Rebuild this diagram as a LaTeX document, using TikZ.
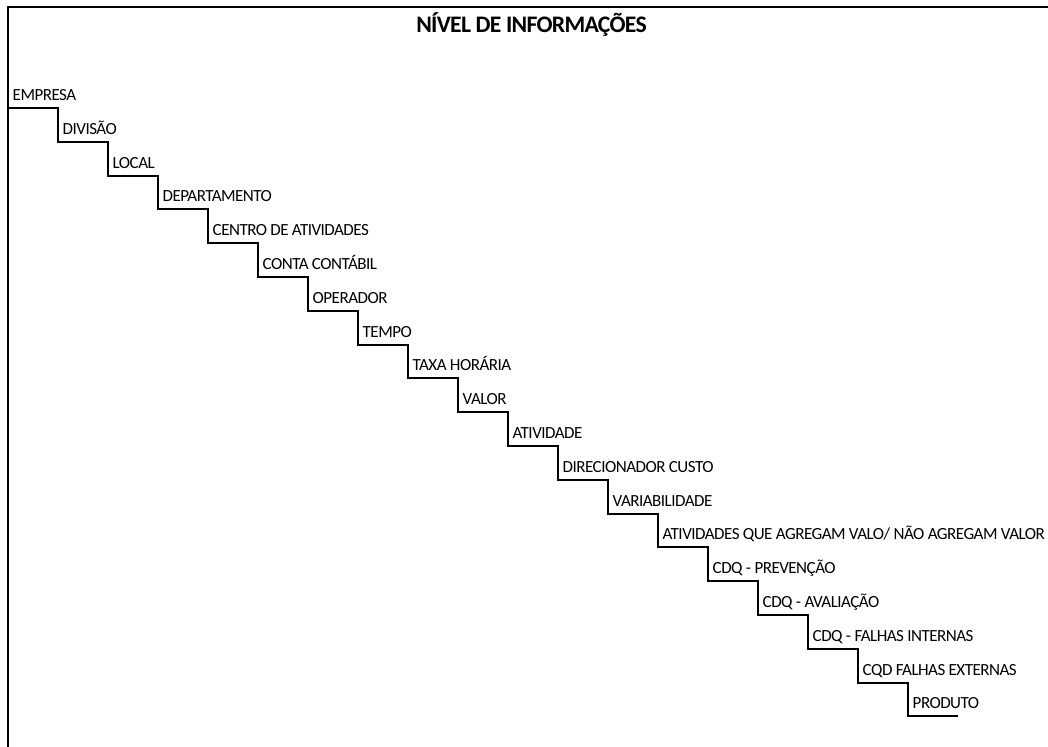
\documentclass[tikz,border=0pt]{standalone}
\usepackage{fontspec}
\setmainfont{Carlito}[LetterSpace=-3]
\begin{document}
\begin{tikzpicture}[x=1bp,y=-1bp,
  frame/.style={line width=2.2bp},
  stair/.style={line width=1.9bp, line join=miter},
  level/.style={anchor=base west, inner sep=0pt, font=\fontsize{17bp}{20bp}\selectfont},
  heading/.style={anchor=base, inner sep=0pt, font=\fontsize{23.7bp}{27bp}\selectfont\bfseries}]
\useasboundingbox (0,0) rectangle (1048,747);
% top and left frame lines
\draw[frame] (1048,6.8) -- (8,6.8) -- (8,747);
\node[heading] (title) at (531.5,33) {NÍVEL DE INFORMAÇÕES};
% step corners and labels
\foreach \t [count=\k from 0] in {EMPRESA, DIVISÃO, LOCAL, DEPARTAMENTO,
  CENTRO DE ATIVIDADES, CONTA CONTÁBIL, OPERADOR, TEMPO, TAXA HORÁRIA, VALOR,
  ATIVIDADE, DIRECIONADOR CUSTO, VARIABILIDADE,
  ATIVIDADES QUE AGREGAM VALO/ NÃO AGREGAM VALOR, CDQ - PREVENÇÃO,
  CDQ - AVALIAÇÃO, CDQ - FALHAS INTERNAS, CQD FALHAS EXTERNAS, PRODUTO} {
  \coordinate (s\k) at ({8+50*\k},{108+33.8*\k});
  \node[level] (n\k) at ({8+50*\k+4.5},{108+33.8*\k-7.5}) {\t};
}
% the staircase
\draw[stair] (s0) foreach \k in {1,...,18} { -| (s\k) } -- ++(50,0);
\end{tikzpicture}
\end{document}
